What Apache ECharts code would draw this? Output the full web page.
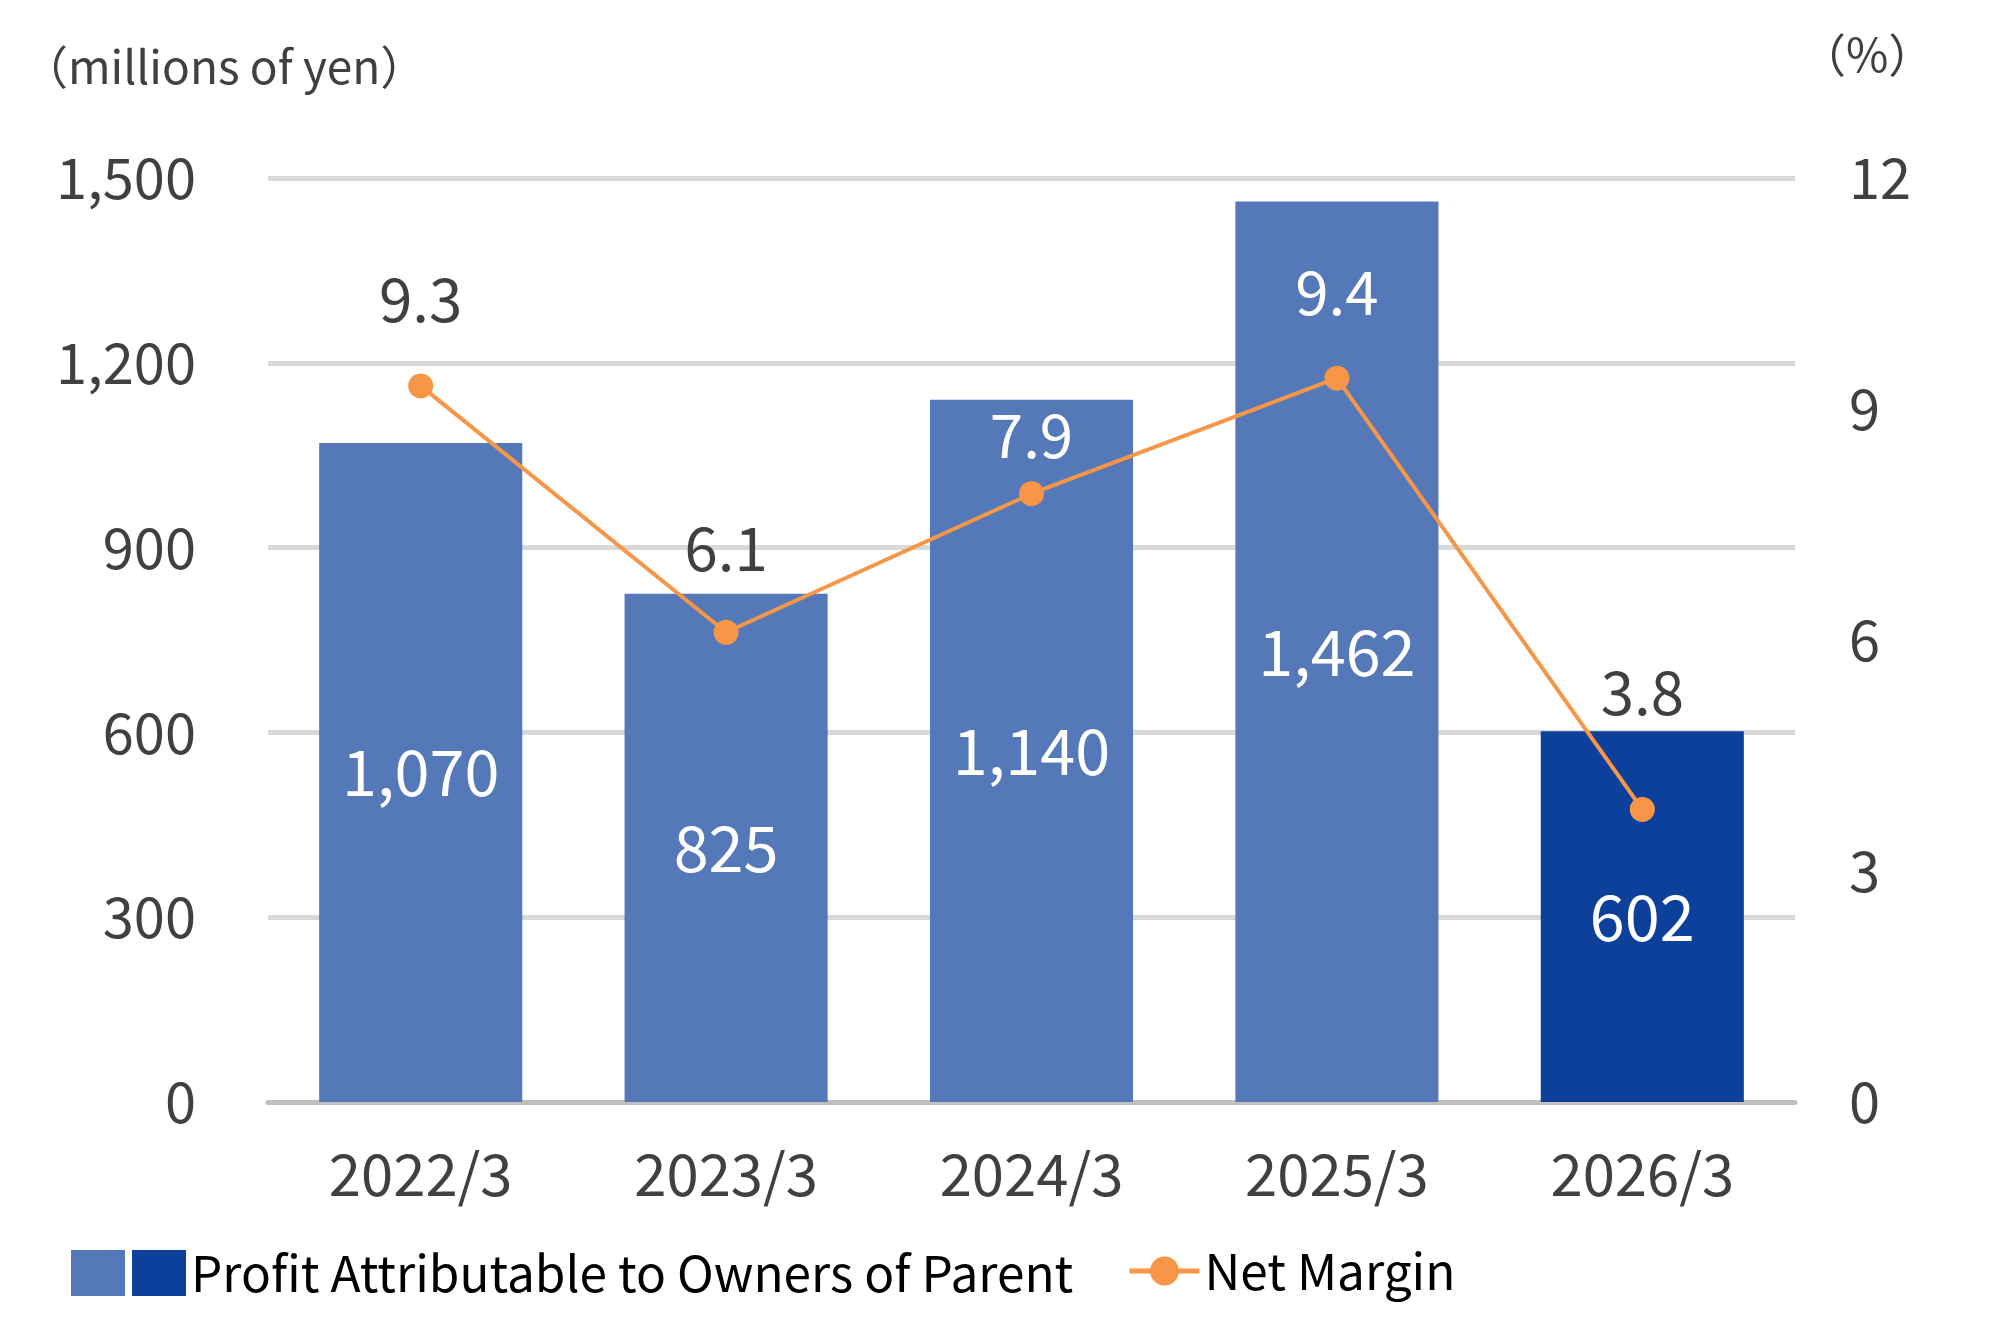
<!DOCTYPE html>
<html>
<head>
<meta charset="utf-8">
<script src="https://cdn.jsdelivr.net/npm/echarts@6/dist/echarts.min.js"></script>
<style>
  html, body { margin: 0; background: #fff; }
  #chart { width: 2000px; height: 1340px; }
</style>
</head>
<body>
<div id="chart"></div>
<script>
const categories = ['2022/3', '2023/3', '2024/3', '2025/3', '2026/3']
const profit = [1070, 825, 1140, 1462, 602]
const netMargin = [9.3, 6.1, 7.9, 9.4, 3.8]
// label tweaks for the margin line (white ones sit on bars)
const marginLabelColor = ['#404040', '#404040', '#ffffff', '#ffffff', '#404040']
const marginLabelGap = [44, 42, 16, 43, 75]

const FONT = '"Noto Sans CJK JP", "Noto Sans", sans-serif'
const fmt = v => Number(v).toLocaleString('en-US')

const chart = echarts.init(document.getElementById('chart'))

const pastBars = profit.map((v, i) => i < profit.length - 1 ? v : '-')
const lastBar = profit.map((v, i) => i === profit.length - 1 ? v : '-')

const barLabel = {
  show: true,
  position: 'inside',
  color: '#ffffff',
  fontSize: 63,
  fontFamily: FONT,
  formatter: p => fmt(p.value)
}

const option = {
  backgroundColor: '#ffffff',
  animation: false,
  textStyle: { fontFamily: FONT },
  grid: { left: 268, right: 205, top: 178, bottom: 238 },
  legend: [
    {
      left: 66,
      top: 1243,
      icon: 'rect',
      itemWidth: 54,
      itemHeight: 46,
      itemGap: 2,
      data: ['_past', 'Profit Attributable to Owners of Parent'],
      formatter: name => name === '_past' ? '' : name,
      textStyle: { fontSize: 49.5, color: '#000000', fontFamily: FONT, lineHeight: 50 }
    },
    {
      left: 1122,
      top: 1241,
      itemWidth: 70,
      itemHeight: 36,
      data: ['Net Margin'],
      lineStyle: { width: 5 },
      textStyle: { fontSize: 49.5, color: '#000000', fontFamily: FONT, lineHeight: 50 }
    }
  ],
  graphic: [
    {
      type: 'text', left: 22, top: 44,
      style: { text: '（millions of yen）', fontSize: 46, fill: '#404040', fontFamily: FONT }
    },
    {
      type: 'text', left: 1800, top: 32,
      style: { text: '（%）', fontSize: 46, fill: '#404040', fontFamily: FONT }
    }
  ],
  xAxis: {
    type: 'category',
    data: categories,
    offset: 3,
    axisLine: { show: true, lineStyle: { color: '#bfbfbf', width: 5 } },
    axisTick: { show: false },
    axisLabel: { color: '#404040', fontSize: 58, margin: 40, fontFamily: FONT }
  },
  yAxis: [
    {
      type: 'value',
      min: 0,
      max: 1500,
      interval: 300,
      axisLine: { show: false },
      axisTick: { show: false },
      splitLine: { lineStyle: { color: '#d9d9d9', width: 5 } },
      axisLabel: {
        color: '#404040', fontSize: 56, margin: 72, fontFamily: FONT,
        padding: [0, 0, 10, 0],
        formatter: v => fmt(v)
      }
    },
    {
      type: 'value',
      min: 0,
      max: 12,
      interval: 3,
      position: 'right',
      axisLine: { show: false },
      axisTick: { show: false },
      splitLine: { show: false },
      axisLabel: {
        color: '#404040', fontSize: 56, margin: 54, fontFamily: FONT,
        padding: [0, 0, 10, 0]
      }
    }
  ],
  series: [
    {
      name: '_past',
      type: 'bar',
      stack: 'profit',
      barCategoryGap: '33.5%',
      itemStyle: { color: '#5579b8' },
      label: barLabel,
      data: pastBars
    },
    {
      name: 'Profit Attributable to Owners of Parent',
      type: 'bar',
      stack: 'profit',
      barCategoryGap: '33.5%',
      itemStyle: { color: '#0c409a' },
      label: barLabel,
      data: lastBar
    },
    {
      name: 'Net Margin',
      type: 'line',
      yAxisIndex: 1,
      symbol: 'circle',
      symbolSize: 25,
      z: 5,
      lineStyle: { color: '#f79646', width: 4 },
      itemStyle: { color: '#f79646' },
      label: {
        show: true,
        position: 'top',
        fontSize: 60,
        lineHeight: 60,
        fontFamily: FONT,
        formatter: p => Number(p.value).toFixed(1)
      },
      data: netMargin.map((v, i) => ({
        value: v,
        label: { color: marginLabelColor[i], distance: marginLabelGap[i] }
      }))
    }
  ]
}

chart.setOption(option)
</script>
</body>
</html>
